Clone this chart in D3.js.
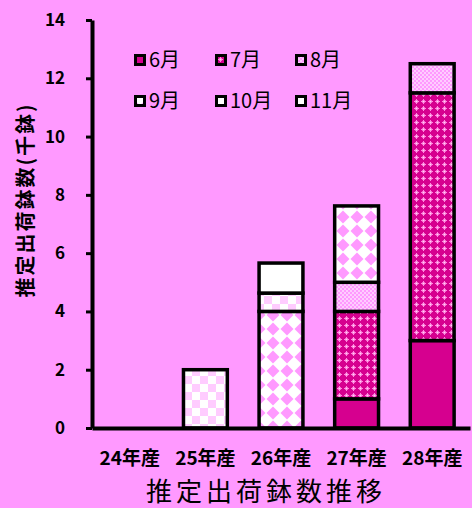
<!DOCTYPE html>
<html>
<head>
<meta charset="utf-8">
<script src="https://cdn.jsdelivr.net/npm/d3@7"></script>
<style>
  html, body { margin: 0; padding: 0; background: #FF99FF; }
  svg { display: block; font-family: "Noto Sans CJK JP", "Noto Sans", sans-serif; }
</style>
</head>
<body>
<svg id="chart" width="472" height="508"></svg>
<script>
// data
var categories = ["24年産", "25年産", "26年産", "27年産", "28年産"];
var months = ["6月", "7月", "8月", "9月", "10月", "11月"];
var jun = [0, 0, 0, 1.0, 3.0];
var jul = [0, 0, 0, 3.0, 8.5];
var aug = [0, 0, 0, 1.0, 1.0];
var sep = [0, 0, 4.0, 2.62, 0];
var oct = [0, 2.0, 0.63, 0, 0];
var nov = [0, 0, 1.03, 0, 0];
var yTicks = [0, 2, 4, 6, 8, 10, 12, 14];

var series = [jun, jul, aug, sep, oct, nov];

var svg = d3.select("#chart");
var width = +svg.attr("width");
var height = +svg.attr("height");
var margin = { top: 20, right: 2, bottom: 80, left: 92 };

// patterns
var defs = svg.append("defs");

// 7月 - magenta with small pink crosses
var p7 = defs.append("pattern").attr("id", "p7")
  .attr("patternUnits", "userSpaceOnUse").attr("width", 7).attr("height", 7);
p7.append("rect").attr("width", 7).attr("height", 7).attr("fill", "#D6008F");
p7.append("rect").attr("x", 2).attr("y", 2).attr("width", 3).attr("height", 3).attr("fill", "#F070CF");
p7.append("rect").attr("x", 1).attr("y", 3).attr("width", 5).attr("height", 1).attr("fill", "#FF8ADF");
p7.append("rect").attr("x", 3).attr("y", 1).attr("width", 1).attr("height", 5).attr("fill", "#FF8ADF");
p7.append("rect").attr("x", 3).attr("y", 3).attr("width", 1).attr("height", 1).attr("fill", "#FFD6F5");

// 8月 - fine checker
var p8 = defs.append("pattern").attr("id", "p8")
  .attr("patternUnits", "userSpaceOnUse").attr("width", 4).attr("height", 4);
p8.append("rect").attr("width", 4).attr("height", 4).attr("fill", "#FF99FF");
p8.append("rect").attr("width", 2).attr("height", 2).attr("fill", "#FFCCFF");
p8.append("rect").attr("x", 2).attr("y", 2).attr("width", 2).attr("height", 2).attr("fill", "#FFCCFF");

// 9月 - pink diamonds on white
var p9 = defs.append("pattern").attr("id", "p9")
  .attr("patternUnits", "userSpaceOnUse").attr("width", 14).attr("height", 14);
p9.append("rect").attr("width", 14).attr("height", 14).attr("fill", "#FFFFFF");
p9.append("path").attr("d", "M7,0.5 L13.5,7 L7,13.5 L0.5,7 Z").attr("fill", "#FF99FF");

// 10月 - large checker white / light pink
var p10 = defs.append("pattern").attr("id", "p10")
  .attr("patternUnits", "userSpaceOnUse").attr("width", 16).attr("height", 16);
p10.append("rect").attr("width", 16).attr("height", 16).attr("fill", "#FFFFFF");
p10.append("rect").attr("width", 8).attr("height", 8).attr("fill", "#FFCCFF");
p10.append("rect").attr("x", 8).attr("y", 8).attr("width", 8).attr("height", 8).attr("fill", "#FFCCFF");

var fills = ["#D6008F", "url(#p7)", "url(#p8)", "url(#p9)", "url(#p10)", "#FFFFFF"];

// scales
var x = d3.scaleBand()
  .domain(categories)
  .range([margin.left, width - margin.right])
  .paddingInner(0.42)
  .paddingOuter(0.21);

var y = d3.scaleLinear()
  .domain([0, 14])
  .range([428, margin.top]);

// stack
var rows = categories.map(function (c, i) {
  var r = { cat: c };
  months.forEach(function (m, k) { r[m] = series[k][i]; });
  return r;
});
var stacked = d3.stack().keys(months)(rows);

// bars
stacked.forEach(function (layer, k) {
  svg.append("g")
    .selectAll("rect")
    .data(layer.filter(function (d) { return d[1] - d[0] > 0; }))
    .enter().append("rect")
    .attr("x", function (d) { return x(d.data.cat); })
    .attr("y", function (d) { return y(d[1]); })
    .attr("width", x.bandwidth())
    .attr("height", function (d) { return y(d[0]) - y(d[1]); })
    .attr("fill", fills[k])
    .attr("stroke", "#000")
    .attr("stroke-width", 3.5);
});

// y axis
var yAxis = d3.axisLeft(y).tickValues(yTicks).tickSize(6).tickSizeOuter(0).tickPadding(21);
var gy = svg.append("g")
  .attr("transform", "translate(" + margin.left + ",0)")
  .call(yAxis);
gy.select(".domain").attr("stroke", "#000").attr("stroke-width", 4);
gy.selectAll(".tick line").attr("stroke-width", 3);
gy.selectAll(".tick text")
  .attr("font-size", "17px")
  .attr("font-weight", "bold")
  .attr("fill", "#000")
  .style("font-family", "'Noto Sans CJK JP', sans-serif");

// x axis
var xAxis = d3.axisBottom(x).tickSize(0).tickSizeOuter(0).tickPadding(24);
var gx = svg.append("g")
  .attr("transform", "translate(0," + y(0) + ")")
  .call(xAxis);
gx.select(".domain").attr("stroke", "#000").attr("stroke-width", 4);
gx.selectAll(".tick text")
  .attr("font-size", "19px")
  .attr("font-weight", "bold")
  .attr("fill", "#000")
  .style("font-family", "'Noto Sans CJK JP', sans-serif");

// y label
svg.append("text")
  .attr("transform", "translate(33,200) rotate(-90)")
  .attr("text-anchor", "middle")
  .attr("font-size", "20px")
  .attr("font-weight", "bold")
  .attr("letter-spacing", "2px")
  .text("推定出荷鉢数(千鉢)");

// title
svg.append("text")
  .attr("x", 266)
  .attr("y", 501)
  .attr("text-anchor", "middle")
  .attr("font-size", "26px")
  .attr("letter-spacing", "4px")
  .text("推定出荷鉢数推移");

// legend
var legendX = [134, 215, 295];
var legendY = [54, 95];
var legend = svg.append("g");
months.forEach(function (m, k) {
  var lx = legendX[k % 3];
  var ly = legendY[Math.floor(k / 3)];
  legend.append("rect")
    .attr("x", lx + 1.5).attr("y", ly + 1.5)
    .attr("width", 9).attr("height", 9)
    .attr("fill", fills[k])
    .attr("stroke", "#000")
    .attr("stroke-width", 3);
  legend.append("text")
    .attr("x", lx + 15)
    .attr("y", ly + 13)
    .attr("font-size", "20px")
    .text(m);
});
</script>
</body>
</html>
